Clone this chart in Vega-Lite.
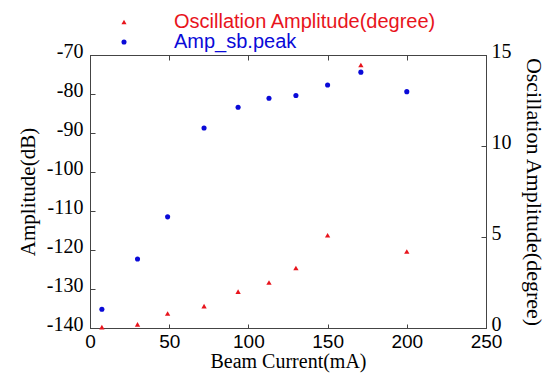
{
  "$schema": "https://vega.github.io/schema/vega-lite/v6.json",
  "width": 396,
  "height": 273,
  "autosize": {"type": "none"},
  "padding": {"left": 90, "top": 55, "right": 69, "bottom": 46},
  "background": "white",
  "config": {
    "view": {"stroke": "#444", "strokeWidth": 1},
    "axis": {
      "domainColor": "#444",
      "tickColor": "#444",
      "grid": false,
      "labelColor": "black",
      "titleColor": "black",
      "titleFontWeight": "normal",
      "titleFont": "Liberation Serif",
      "titleFontSize": 21,
      "labelFontSize": 20
    }
  },
  "datasets": {
    "peak": [
      {"current": 7.5, "amp": -135.2, "series": "Amp_sb.peak"},
      {"current": 30, "amp": -122.3, "series": "Amp_sb.peak"},
      {"current": 49, "amp": -111.5, "series": "Amp_sb.peak"},
      {"current": 72, "amp": -88.7, "series": "Amp_sb.peak"},
      {"current": 93.5, "amp": -83.4, "series": "Amp_sb.peak"},
      {"current": 113, "amp": -81.1, "series": "Amp_sb.peak"},
      {"current": 130, "amp": -80.4, "series": "Amp_sb.peak"},
      {"current": 150, "amp": -77.7, "series": "Amp_sb.peak"},
      {"current": 171, "amp": -74.4, "series": "Amp_sb.peak"},
      {"current": 200, "amp": -79.4, "series": "Amp_sb.peak"}
    ],
    "osc": [
      {"current": 7.5, "deg": 0.05, "series": "Oscillation Amplitude(degree)"},
      {"current": 30, "deg": 0.2, "series": "Oscillation Amplitude(degree)"},
      {"current": 49, "deg": 0.8, "series": "Oscillation Amplitude(degree)"},
      {"current": 72, "deg": 1.2, "series": "Oscillation Amplitude(degree)"},
      {"current": 93.5, "deg": 2.0, "series": "Oscillation Amplitude(degree)"},
      {"current": 113, "deg": 2.5, "series": "Oscillation Amplitude(degree)"},
      {"current": 130, "deg": 3.3, "series": "Oscillation Amplitude(degree)"},
      {"current": 150, "deg": 5.1, "series": "Oscillation Amplitude(degree)"},
      {"current": 171, "deg": 14.45, "series": "Oscillation Amplitude(degree)"},
      {"current": 200, "deg": 4.2, "series": "Oscillation Amplitude(degree)"}
    ]
  },
  "layer": [
    {
      "data": {"name": "peak"},
      "mark": {"type": "point", "filled": true, "opacity": 1, "size": 26},
      "encoding": {
        "x": {
          "field": "current", "type": "quantitative",
          "scale": {"domain": [0, 250], "nice": false, "zero": false},
          "axis": {
            "orient": "bottom", "title": "Beam Current(mA)", "values": [0, 50, 100, 150, 200, 250],
            "tickSize": -4, "labelPadding": 8, "labelFont": "Liberation Sans", "labelFontSize": 19,
            "titlePadding": 0, "titleFontSize": 20, "labelFlush": false, "labelOverlap": false
          }
        },
        "y": {
          "field": "amp", "type": "quantitative",
          "scale": {"domain": [-140, -70], "nice": false, "zero": false},
          "axis": {
            "orient": "left", "title": "Amplitude(dB)", "values": [-140, -130, -120, -110, -100, -90, -80, -70],
            "labelExpr": "replace(datum.label, '−', '-')",
            "tickSize": -5, "labelPadding": 12, "labelOffset": -4, "labelFont": "Liberation Serif",
            "titlePadding": 8, "labelFlush": false, "labelOverlap": false
          }
        },
        "color": {
          "field": "series", "type": "nominal",
          "scale": {"domain": ["Oscillation Amplitude(degree)", "Amp_sb.peak"], "range": ["#e8141c", "#0a0ad8"]},
          "legend": {
            "orient": "none", "legendX": 24, "legendY": -43, "title": null,
            "labelFont": "Liberation Sans", "labelFontSize": 20, "labelOffset": 40, "labelLimit": 500,
            "rowPadding": -4, "symbolSize": 26, "padding": 0,
            "labelColor": {"expr": "datum.label == 'Amp_sb.peak' ? '#0a0ad8' : '#e8141c'"}
          }
        },
        "shape": {
          "field": "series", "type": "nominal",
          "scale": {"domain": ["Oscillation Amplitude(degree)", "Amp_sb.peak"], "range": ["triangle-up", "circle"]},
          "legend": null
        }
      }
    },
    {
      "data": {"name": "osc"},
      "mark": {"type": "point", "filled": true, "opacity": 1, "size": 28},
      "encoding": {
        "x": {
          "field": "current", "type": "quantitative",
          "scale": {"domain": [0, 250], "nice": false, "zero": false},
          "axis": {
            "orient": "top", "title": null, "labels": false, "values": [0, 50, 100, 150, 200, 250],
            "tickSize": -5
          }
        },
        "y": {
          "field": "deg", "type": "quantitative",
          "scale": {"domain": [0, 15], "nice": false, "zero": false},
          "axis": {
            "orient": "right", "title": "Oscillation Amplitude(degree)", "values": [0, 5, 10, 15],
            "tickSize": -5, "labelPadding": 10, "labelOffset": -4, "labelFont": "Liberation Serif",
            "titlePadding": 10, "titleFontSize": 22, "labelFlush": false, "labelOverlap": false
          }
        },
        "color": {
          "field": "series", "type": "nominal",
          "scale": {"domain": ["Oscillation Amplitude(degree)", "Amp_sb.peak"], "range": ["#e8141c", "#0a0ad8"]}
        },
        "shape": {
          "field": "series", "type": "nominal",
          "scale": {"domain": ["Oscillation Amplitude(degree)", "Amp_sb.peak"], "range": ["triangle-up", "circle"]}
        }
      }
    }
  ],
  "resolve": {"scale": {"y": "independent"}, "axis": {"x": "independent", "y": "independent"}}
}
